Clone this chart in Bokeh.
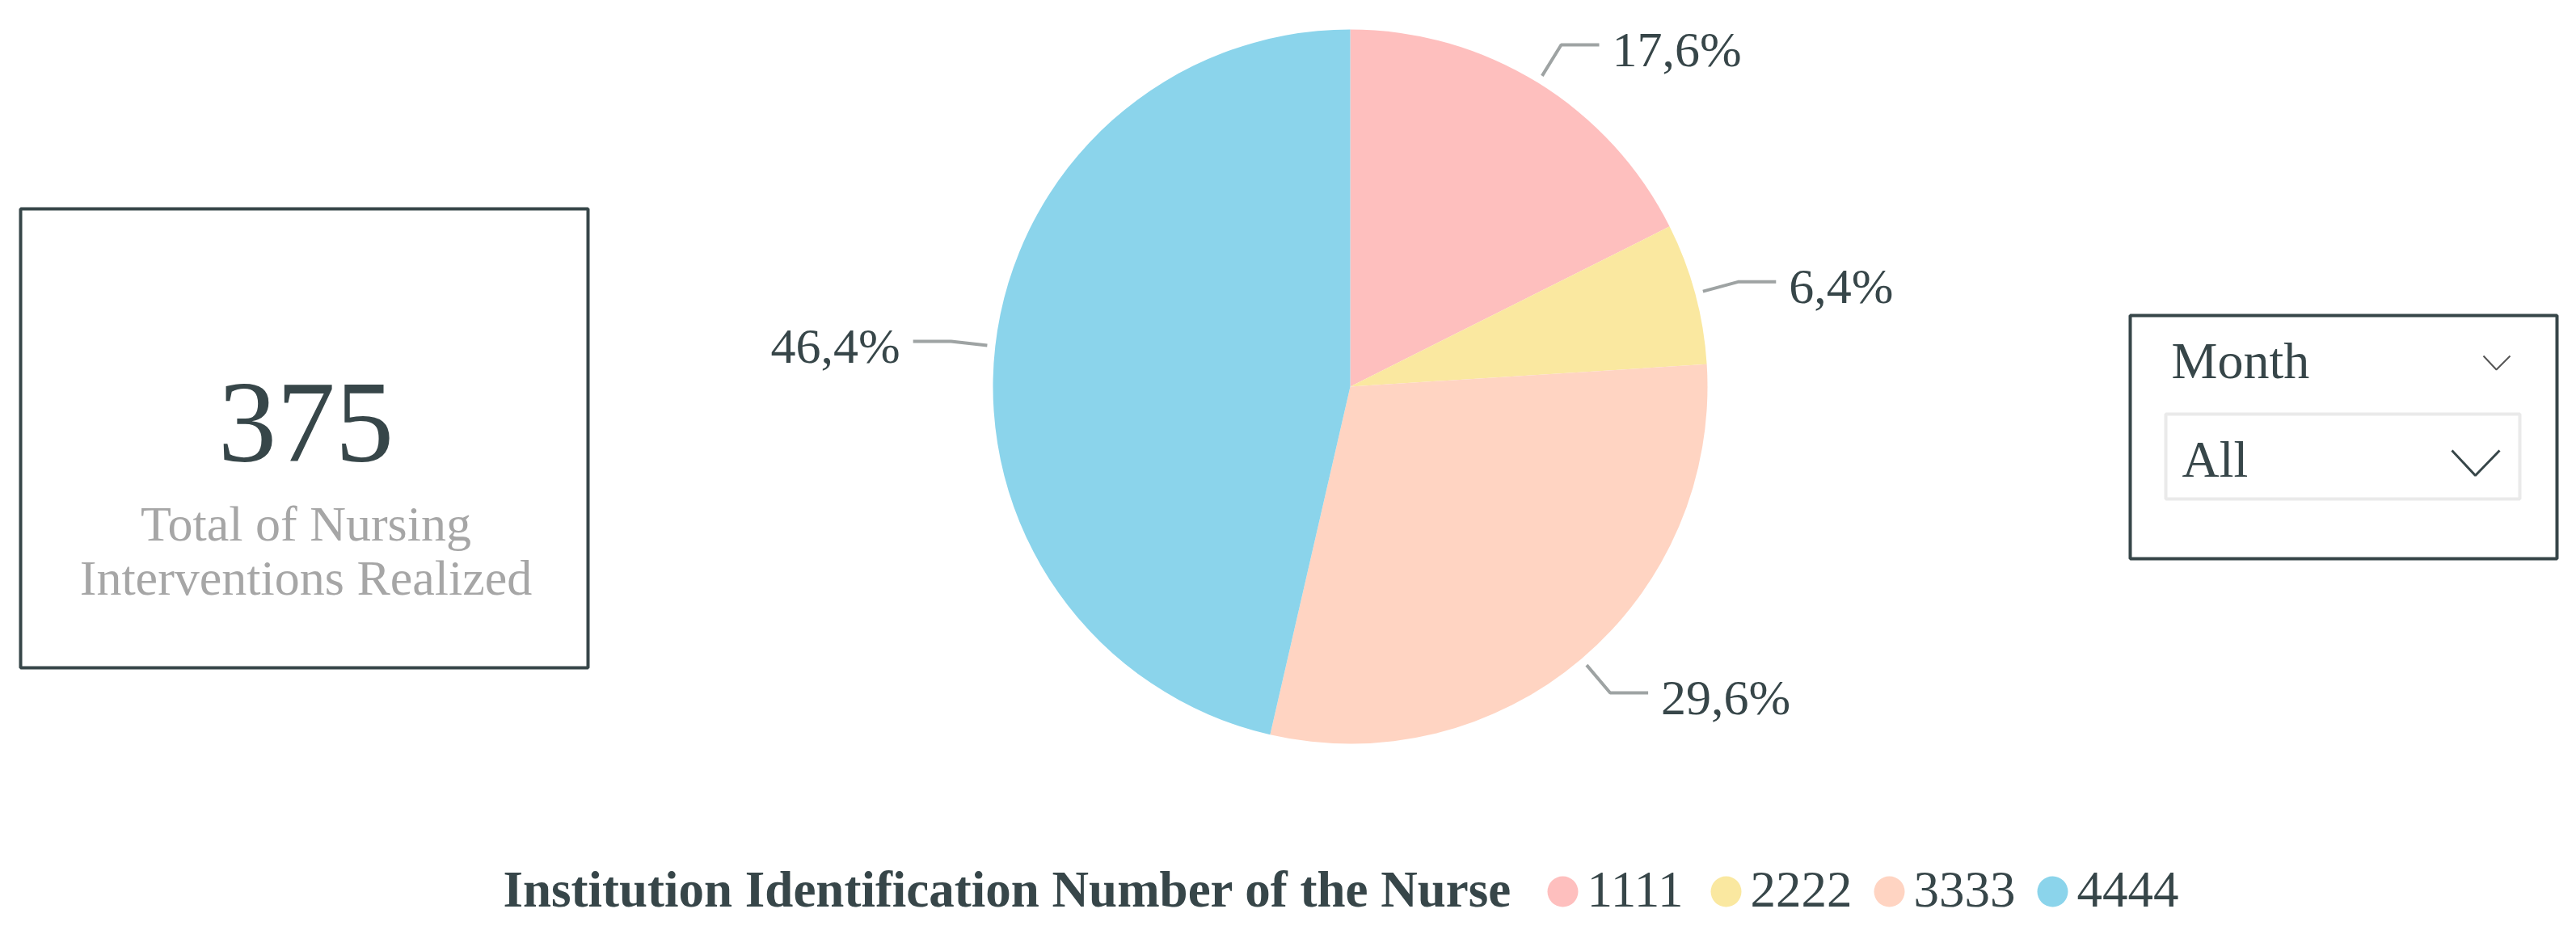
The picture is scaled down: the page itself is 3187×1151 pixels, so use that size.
import numpy as np
from bokeh.plotting import figure
from bokeh.models import Range1d
from bokeh.core.properties import value
from bokeh.embed import file_html
from bokeh.resources import INLINE

# ---------------- data ----------------
categories = ["1111", "2222", "3333", "4444"]
counts = [66, 24, 111, 174]
colors = ["#FEBFBE", "#FAE8A0", "#FFD4C2", "#8BD4EB"]
kpi_caption = ["Total of Nursing", "Interventions Realized"]
legend_title = "Institution Identification Number of the Nurse"
slicer_title = "Month"
slicer_value = "All"

# ---------------- layout ----------------
W, H = 3171, 1135
FONT = value("Liberation Serif")
DARK = "#374649"
GREY = "#A6A6A6"
LEAD = "#9EA3A3"
BASE_FIX = 0.32   # empirical offset of the rendered alphabetic baseline (em)


def S(y):
    """screen-y (down) -> data-y (up)"""
    return 1151 - y


def TB(b, size):
    """data-y to pass so that the text baseline lands at screen-y b"""
    return S(b - BASE_FIX * size)


p = figure(width=W, height=H, x_range=Range1d(0, W), y_range=Range1d(16, 16 + H),
           output_backend="svg", toolbar_location=None, min_border=0,
           x_axis_location=None, y_axis_location=None)
p.grid.visible = False
p.outline_line_color = None
p.background_fill_color = "white"
p.border_fill_color = "white"

# ---------------- pie ----------------
cx, cy, R = 1670, 478, 442
vals = np.array(counts, dtype=float)
total = vals.sum()
frac = vals / total
cum_end = np.cumsum(frac)
cum_start = cum_end - frac
start_ang = np.pi / 2 - 2 * np.pi * cum_start
end_ang = np.pi / 2 - 2 * np.pi * cum_end
p.wedge(x=cx, y=S(cy), radius=R, start_angle=list(start_ang), end_angle=list(end_ang),
        direction="clock", fill_color=colors, line_color=None)

# leader lines and labels
LBL = 62
mid = (cum_start + cum_end) / 2 * 2 * np.pi
xs, ys = [], []
lab_l = dict(x=[], y=[], t=[])
lab_r = dict(x=[], y=[], t=[])
for f, th in zip(frac, mid):
    ux, uy = np.sin(th), -np.cos(th)
    sx0, sy0 = cx + (R + 10) * ux, cy + (R + 10) * uy
    sx1, sy1 = cx + (R + 55) * ux, cy + (R + 55) * uy
    side = 1 if ux >= 0 else -1
    sx2 = sx1 + side * 47
    xs.append([sx0, sx1, sx2])
    ys.append([S(sy0), S(sy1), S(sy1)])
    txt = f"{f * 100:.1f}%".replace(".", ",")
    d = lab_l if side > 0 else lab_r
    d["x"].append(sx2 + side * 16)
    d["y"].append(TB(sy1 + 25, LBL))
    d["t"].append(txt)
p.multi_line(xs=xs, ys=ys, line_color=LEAD, line_width=4)
p.text(x=lab_l["x"], y=lab_l["y"], text=lab_l["t"], text_font=FONT, text_font_size=f"{LBL}px",
       text_color=DARK, text_align="left", text_baseline="alphabetic")
p.text(x=lab_r["x"], y=lab_r["y"], text=lab_r["t"], text_font=FONT, text_font_size=f"{LBL}px",
       text_color=DARK, text_align="right", text_baseline="alphabetic")

# ---------------- KPI card ----------------
p.quad(left=[25], right=[727], top=[S(258)], bottom=[S(826)], fill_color=None,
       line_color=DARK, line_width=4)
p.text(x=[378], y=[TB(569, 145)], text=[str(int(total))], text_font=FONT,
       text_font_size="145px", text_color=DARK, text_align="center", text_baseline="alphabetic")
p.text(x=[378, 378], y=[TB(667, 62), TB(734, 62)], text=kpi_caption, text_font=FONT,
       text_font_size="62px", text_color=GREY, text_align="center", text_baseline="alphabetic")

# ---------------- slicer ----------------
p.quad(left=[2635], right=[3163], top=[S(390)], bottom=[S(691)], fill_color=None,
       line_color=DARK, line_width=4)
p.quad(left=[2679], right=[3117], top=[S(512)], bottom=[S(617)], fill_color=None,
       line_color="#EAEAEA", line_width=4)
p.text(x=[2686], y=[TB(466, 64)], text=[slicer_title], text_font=FONT, text_font_size="64px",
       text_color=DARK, text_align="left", text_baseline="alphabetic")
p.text(x=[2699], y=[TB(588, 64)], text=[slicer_value], text_font=FONT, text_font_size="64px",
       text_color=DARK, text_align="left", text_baseline="alphabetic")
p.line(x=[3072, 3088, 3105], y=[S(440), S(457), S(440)], line_color="#555555", line_width=2)
p.line(x=[3033, 3062, 3092], y=[S(557), S(588), S(557)], line_color=DARK, line_width=3)

# ---------------- legend ----------------
p.text(x=[622], y=[TB(1121, 63)], text=[legend_title], text_font=FONT, text_font_size="63px",
       text_font_style="bold", text_color=DARK, text_align="left", text_baseline="alphabetic")
lx = [1933 + i * 202 for i in range(len(categories))]
p.scatter(x=lx, y=[S(1103)] * len(categories), size=38, marker="circle",
          fill_color=colors, line_color=None)
p.text(x=[x + 30 for x in lx], y=[TB(1121, 63)] * len(categories), text=categories,
       text_font=FONT, text_font_size="63px", text_color=DARK, text_align="left",
       text_baseline="alphabetic")

open("out.html", "w").write(file_html(p, INLINE))
